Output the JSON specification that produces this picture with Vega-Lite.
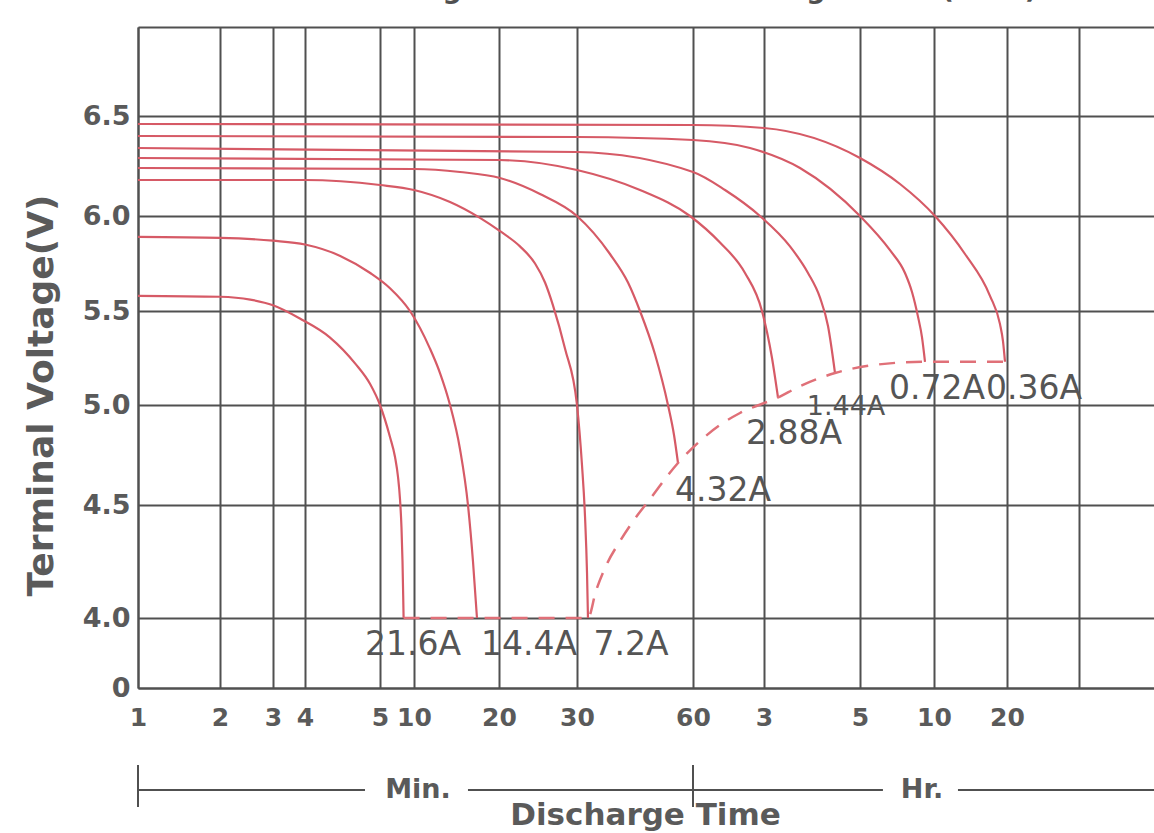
{
  "$schema": "https://vega.github.io/schema/vega-lite/v6.json",
  "width": 1016,
  "height": 661,
  "autosize": {"type": "none"},
  "padding": {"left": 138, "top": 27, "right": 0, "bottom": 145},
  "background": "white",
  "title": {
    "text": "Discharge Characteristics Voltage Curve(25°C)",
    "font": "DejaVu Sans",
    "fontSize": 27,
    "fontWeight": "bold",
    "color": "#505050",
    "anchor": "start",
    "frame": "group",
    "baseline": "alphabetic",
    "offset": 0,
    "dx": 190,
    "dy": 12
  },
  "config": {"view": {"stroke": null}},
  "datasets": {
    "curves": [
      {"s": "21.6A", "t": 1, "v": 5.58}, {"s": "21.6A", "t": 2, "v": 5.575}, {"s": "21.6A", "t": 2.57, "v": 5.56}, {"s": "21.6A", "t": 3, "v": 5.53}, {"s": "21.6A", "t": 3.84, "v": 5.46}, {"s": "21.6A", "t": 4.33, "v": 5.36}, {"s": "21.6A", "t": 4.67, "v": 5.22}, {"s": "21.6A", "t": 4.87, "v": 5.11}, {"s": "21.6A", "t": 5, "v": 5.0}, {"s": "21.6A", "t": 6.47, "v": 4.84}, {"s": "21.6A", "t": 7.21, "v": 4.74}, {"s": "21.6A", "t": 7.65, "v": 4.64}, {"s": "21.6A", "t": 7.94, "v": 4.53}, {"s": "21.6A", "t": 8.16, "v": 4.4}, {"s": "21.6A", "t": 8.31, "v": 4.25}, {"s": "21.6A", "t": 8.41, "v": 4.1}, {"s": "21.6A", "t": 8.47, "v": 4.0},
      {"s": "14.4A", "t": 1, "v": 5.89}, {"s": "14.4A", "t": 2, "v": 5.885}, {"s": "14.4A", "t": 3, "v": 5.87}, {"s": "14.4A", "t": 4, "v": 5.85}, {"s": "14.4A", "t": 4.47, "v": 5.79}, {"s": "14.4A", "t": 4.87, "v": 5.7}, {"s": "14.4A", "t": 6.47, "v": 5.62}, {"s": "14.4A", "t": 9.41, "v": 5.5}, {"s": "14.4A", "t": 11.88, "v": 5.3}, {"s": "14.4A", "t": 13.06, "v": 5.17}, {"s": "14.4A", "t": 14.24, "v": 5.0}, {"s": "14.4A", "t": 15.41, "v": 4.78}, {"s": "14.4A", "t": 16.35, "v": 4.5}, {"s": "14.4A", "t": 16.94, "v": 4.25}, {"s": "14.4A", "t": 17.41, "v": 4.0},
      {"s": "7.2A", "t": 1, "v": 6.18}, {"s": "7.2A", "t": 4, "v": 6.18}, {"s": "7.2A", "t": 5, "v": 6.155}, {"s": "7.2A", "t": 10, "v": 6.13}, {"s": "7.2A", "t": 14.24, "v": 6.07}, {"s": "7.2A", "t": 17.76, "v": 5.99}, {"s": "7.2A", "t": 20.13, "v": 5.92}, {"s": "7.2A", "t": 22.69, "v": 5.84}, {"s": "7.2A", "t": 24.62, "v": 5.75}, {"s": "7.2A", "t": 25.9, "v": 5.65}, {"s": "7.2A", "t": 26.92, "v": 5.53}, {"s": "7.2A", "t": 28.46, "v": 5.3}, {"s": "7.2A", "t": 30, "v": 5.0}, {"s": "7.2A", "t": 31.29, "v": 4.7}, {"s": "7.2A", "t": 32.07, "v": 4.45}, {"s": "7.2A", "t": 32.59, "v": 4.2}, {"s": "7.2A", "t": 32.84, "v": 4.0},
      {"s": "4.32A", "t": 1, "v": 6.24}, {"s": "4.32A", "t": 10, "v": 6.235}, {"s": "4.32A", "t": 15.41, "v": 6.22}, {"s": "4.32A", "t": 20.13, "v": 6.19}, {"s": "4.32A", "t": 25.26, "v": 6.11}, {"s": "4.32A", "t": 30, "v": 6.0}, {"s": "4.32A", "t": 38.53, "v": 5.8}, {"s": "4.32A", "t": 43.19, "v": 5.65}, {"s": "4.32A", "t": 46.29, "v": 5.5}, {"s": "4.32A", "t": 50.17, "v": 5.27}, {"s": "4.32A", "t": 53.53, "v": 5.0}, {"s": "4.32A", "t": 55.09, "v": 4.85}, {"s": "4.32A", "t": 56.12, "v": 4.71},
      {"s": "2.88A", "t": 1, "v": 6.29}, {"s": "2.88A", "t": 20, "v": 6.28}, {"s": "2.88A", "t": 30, "v": 6.23}, {"s": "2.88A", "t": 46.29, "v": 6.13}, {"s": "2.88A", "t": 59.22, "v": 6.0}, {"s": "2.88A", "t": 105.6, "v": 5.86}, {"s": "2.88A", "t": 147.9, "v": 5.7}, {"s": "2.88A", "t": 176.6, "v": 5.5}, {"s": "2.88A", "t": 190, "v": 5.25}, {"s": "2.88A", "t": 197.5, "v": 5.04},
      {"s": "1.44A", "t": 1, "v": 6.34}, {"s": "1.44A", "t": 30, "v": 6.32}, {"s": "1.44A", "t": 60, "v": 6.22}, {"s": "1.44A", "t": 114.1, "v": 6.13}, {"s": "1.44A", "t": 173.2, "v": 6.0}, {"s": "1.44A", "t": 212.5, "v": 5.84}, {"s": "1.44A", "t": 235, "v": 5.7}, {"s": "1.44A", "t": 250, "v": 5.57}, {"s": "1.44A", "t": 260, "v": 5.42}, {"s": "1.44A", "t": 268.75, "v": 5.17},
      {"s": "0.72A", "t": 1, "v": 6.4}, {"s": "0.72A", "t": 30, "v": 6.395}, {"s": "0.72A", "t": 60, "v": 6.38}, {"s": "0.72A", "t": 156.3, "v": 6.34}, {"s": "0.72A", "t": 225, "v": 6.24}, {"s": "0.72A", "t": 300, "v": 6.0}, {"s": "0.72A", "t": 421.6, "v": 5.82}, {"s": "0.72A", "t": 482.4, "v": 5.7}, {"s": "0.72A", "t": 510.8, "v": 5.6}, {"s": "0.72A", "t": 535.1, "v": 5.47}, {"s": "0.72A", "t": 551.4, "v": 5.36}, {"s": "0.72A", "t": 563.5, "v": 5.23},
      {"s": "0.36A", "t": 1, "v": 6.46}, {"s": "0.36A", "t": 60, "v": 6.455}, {"s": "0.36A", "t": 180, "v": 6.44}, {"s": "0.36A", "t": 300, "v": 6.29}, {"s": "0.36A", "t": 462.2, "v": 6.16}, {"s": "0.36A", "t": 608.2, "v": 6.0}, {"s": "0.36A", "t": 854.7, "v": 5.8}, {"s": "0.36A", "t": 1060, "v": 5.58}, {"s": "0.36A", "t": 1142.5, "v": 5.43}, {"s": "0.36A", "t": 1167, "v": 5.34}, {"s": "0.36A", "t": 1183.6, "v": 5.23}
    ],
    "cutoff": [
      {"t": 8.47, "v": 4.0}, {"t": 17.41, "v": 4.0}, {"t": 32.84, "v": 4.0}, {"t": 34.91, "v": 4.12}, {"t": 37.76, "v": 4.24}, {"t": 41.12, "v": 4.34}, {"t": 45, "v": 4.44}, {"t": 48.88, "v": 4.53}, {"t": 56.12, "v": 4.71}, {"t": 71.8, "v": 4.82}, {"t": 105.6, "v": 4.9}, {"t": 139.4, "v": 4.96}, {"t": 197.5, "v": 5.04}, {"t": 225, "v": 5.1}, {"t": 268.75, "v": 5.17}, {"t": 340.5, "v": 5.21}, {"t": 563.5, "v": 5.23}, {"t": 1183.6, "v": 5.23}
    ],
    "labels": [
      {"label": "21.6A", "t": 9.85, "v": 2.46},
      {"label": "14.4A", "t": 23.85, "v": 2.46},
      {"label": "7.2A", "t": 43.96, "v": 2.46},
      {"label": "4.32A", "t": 110.7, "v": 4.57},
      {"label": "2.88A", "t": 217.5, "v": 4.855},
      {"label": "0.72A", "t": 624.7, "v": 5.086},
      {"label": "0.36A", "t": 1650, "v": 5.086}
    ],
    "smallLabels": [
      {"label": "1.44A", "t": 282.5, "v": 4.99}
    ],
    "bracket": [
      {"t": 1, "t2": 4.8, "v": -5.83},
      {"t": 16.35, "t2": 393, "v": -5.83},
      {"t": 797, "t2": 4800, "v": -5.83}
    ],
    "bracketTicks": [
      {"t": 1, "v": -4.4, "v2": -6.8},
      {"t": 60, "v": -4.4, "v2": -6.8}
    ],
    "units": [
      {"label": "Min.", "t": 10.47, "v": -5.83},
      {"label": "Hr.", "t": 551.3, "v": -5.83}
    ]
  },
  "encoding": {
    "x": {
      "field": "t",
      "type": "quantitative",
      "scale": {
        "type": "linear",
        "domain": [1, 2, 3, 4, 5, 10, 20, 30, 60, 180, 300, 600, 1200, 2400, 4800],
        "range": [0, 82, 135, 167, 242, 276, 361, 439, 555, 626, 722, 796, 869, 941, 1016],
        "nice": false,
        "zero": false
      },
      "axis": {
        "values": [1, 2, 3, 4, 5, 10, 20, 30, 60, 180, 300, 600, 1200, 2400],
        "labelExpr": "datum.value==180?'3':datum.value==300?'5':datum.value==600?'10':datum.value==1200?'20':datum.value==2400?'':''+datum.value",
        "grid": true,
        "gridColor": "#505050",
        "gridWidth": 2,
        "gridOpacity": 1,
        "domain": true,
        "domainColor": "#505050",
        "domainWidth": 2,
        "ticks": false,
        "labelFont": "DejaVu Sans",
        "labelFontWeight": "bold",
        "labelFontSize": 25,
        "labelColor": "#5a5a5a",
        "labelPadding": 17,
        "labelFlush": false,
        "labelOverlap": false,
        "title": "Discharge Time",
        "titleFont": "DejaVu Sans",
        "titleFontSize": 31,
        "titleFontWeight": "bold",
        "titleColor": "#5a5a5a",
        "titleX": 507,
        "titleY": 127,
        "titleBaseline": "middle",
        "titleAlign": "center"
      }
    },
    "y": {
      "field": "v",
      "type": "quantitative",
      "scale": {
        "type": "linear",
        "domain": [0, 4, 4.5, 5, 5.5, 6, 6.5, 6.95],
        "range": [661, 591, 478, 378, 284, 189, 89, 0],
        "nice": false,
        "zero": false
      },
      "axis": {
        "values": [0, 4, 4.5, 5, 5.5, 6, 6.5, 6.95],
        "labelExpr": "datum.value==0?'0':datum.value>6.9?'':format(datum.value,'.1f')",
        "grid": true,
        "gridColor": "#505050",
        "gridWidth": 2,
        "gridOpacity": 1,
        "domain": true,
        "domainColor": "#505050",
        "domainWidth": 2,
        "ticks": false,
        "labelFont": "DejaVu Sans",
        "labelFontWeight": "bold",
        "labelFontSize": 27,
        "labelColor": "#5a5a5a",
        "labelPadding": 8,
        "labelOverlap": false,
        "title": "Terminal Voltage(V)",
        "titleFont": "DejaVu Sans",
        "titleFontSize": 36,
        "titleFontWeight": "bold",
        "titleColor": "#5a5a5a",
        "titleX": -97,
        "titleY": 368,
        "titleAngle": -90,
        "titleBaseline": "middle",
        "titleAlign": "center"
      }
    }
  },
  "layer": [
    {
      "data": {"name": "curves"},
      "mark": {"type": "line", "color": "#d65a66", "strokeWidth": 2.2, "interpolate": "monotone"},
      "encoding": {"detail": {"field": "s", "type": "nominal"}}
    },
    {
      "data": {"name": "cutoff"},
      "mark": {"type": "line", "color": "#e07078", "strokeWidth": 2.5, "strokeDash": [16, 11], "interpolate": "monotone"},
      "encoding": {}
    },
    {
      "data": {"name": "labels"},
      "mark": {"type": "text", "font": "DejaVu Sans", "fontSize": 33, "color": "#555555", "align": "center", "baseline": "middle"},
      "encoding": {"text": {"field": "label"}}
    },
    {
      "data": {"name": "smallLabels"},
      "mark": {"type": "text", "font": "DejaVu Sans", "fontSize": 27, "color": "#555555", "align": "center", "baseline": "middle"},
      "encoding": {"text": {"field": "label"}}
    },
    {
      "data": {"name": "bracket"},
      "mark": {"type": "rule", "color": "#505050", "strokeWidth": 2, "clip": false},
      "encoding": {"x2": {"field": "t2"}}
    },
    {
      "data": {"name": "bracketTicks"},
      "mark": {"type": "rule", "color": "#505050", "strokeWidth": 2, "clip": false},
      "encoding": {"y2": {"field": "v2"}}
    },
    {
      "data": {"name": "units"},
      "mark": {"type": "text", "font": "DejaVu Sans", "fontSize": 27, "fontWeight": "bold", "color": "#5a5a5a", "align": "center", "baseline": "middle"},
      "encoding": {"text": {"field": "label"}}
    }
  ]
}
